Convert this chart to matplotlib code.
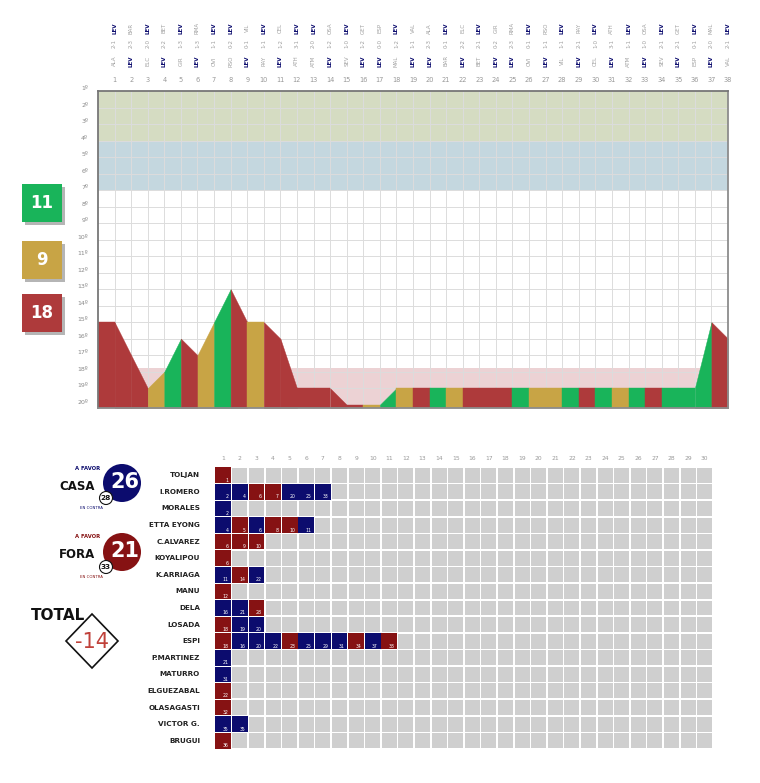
import matplotlib
matplotlib.use('Agg')
import matplotlib.pyplot as plt
from matplotlib.patches import Rectangle, Circle, Polygon
from matplotlib import transforms

plt.rcParams['font.family'] = ['Liberation Sans Narrow', 'DejaVu Sans']

# ---------------- data ----------------
rounds = list(range(1, 39))
positions = [15, 17, 19, 18, 16, 17, 15, 13, 15, 15, 16, 19, 19, 19, 20, 20, 20, 19,
             19, 19, 19, 19, 19, 19, 19, 19, 19, 19, 19, 19, 19, 19, 19, 19, 19, 19, 15, 16]
results = "LLLDWLDWLDLLLLLLDWDLWDLLLWDDWLWDWLWWWL"
opponents = ['ALA', 'BAR', 'ELC', 'BET', 'GIR', 'RMA', 'OVI', 'RSO', 'VIL', 'RAY',
             'CEL', 'ATH', 'ATM', 'OSA', 'SEV', 'GET', 'ESP', 'MAL', 'VAL', 'ALA',
             'BAR', 'ELC', 'BET', 'GIR', 'RMA', 'OVI', 'RSO', 'VIL', 'RAY', 'CEL',
             'ATH', 'ATM', 'OSA', 'SEV', 'GET', 'ESP', 'MAL', 'VAL']
home = [0, 1, 0, 1, 0, 1, 0, 0, 1, 0, 1, 0, 0, 1, 0, 1, 1, 0, 1, 1,
        0, 1, 0, 1, 1, 0, 1, 0, 1, 0, 1, 0, 1, 0, 1, 0, 1, 0]
lev_goals = [1, 2, 0, 2, 3, 1, 1, 2, 0, 1, 1, 1, 0, 1, 0, 1, 0, 2, 1, 2,
             1, 2, 1, 0, 2, 1, 1, 1, 2, 0, 3, 1, 1, 1, 2, 1, 2, 1]
opp_goals = [2, 3, 2, 2, 1, 3, 1, 0, 1, 1, 2, 3, 2, 2, 1, 2, 0, 1, 1, 3,
             0, 2, 2, 2, 3, 0, 1, 1, 1, 1, 1, 1, 0, 2, 1, 0, 0, 2]
wins, draws, losses = 11, 9, 18

players = ['TOLJAN', 'I.ROMERO', 'MORALES', 'ETTA EYONG', 'C.ALVAREZ', 'KOYALIPOU',
           'K.ARRIAGA', 'MANU', 'DELA', 'LOSADA', 'ESPI', 'P.MARTINEZ', 'MATURRO',
           'ELGUEZABAL', 'OLASAGASTI', 'VICTOR G.', 'BRUGUI']
goal_rounds = [
    [1],
    [2, 4, 6, 7, 20, 25, 33],
    [2],
    [4, 5, 6, 8, 10, 11],
    [6, 9, 10],
    [6],
    [11, 14, 22],
    [12],
    [16, 21, 28],
    [18, 19, 20],
    [18, 16, 20, 22, 23, 25, 29, 31, 34, 37, 38],
    [21],
    [31],
    [22],
    [32],
    [35, 35],
    [36],
]
goal_home = [
    [0],
    [1, 1, 0, 0, 1, 1, 1],
    [1],
    [1, 0, 1, 0, 0, 1],
    [0, 0, 0],
    [0],
    [1, 0, 1],
    [0],
    [1, 1, 0],
    [0, 1, 1],
    [0, 1, 1, 1, 0, 1, 1, 1, 0, 1, 0],
    [1],
    [1],
    [0],
    [0],
    [1, 1],
    [0],
]
home_for, home_against = 26, 28
away_for, away_against = 21, 33
goal_diff = -14

# ---------------- style ----------------
C_W, C_D, C_L = '#19b45a', '#c8a445', '#ae3a3b'
res_col = {'W': C_W, 'D': C_D, 'L': C_L}
NAVY, GARNET = '#0c0c6e', '#861213'

W, H = 760, 783
fig = plt.figure(figsize=(W / 100, H / 100), dpi=100)
fig.patch.set_facecolor('white')

def fbox(x0, y0, x1, y1):
    return [x0 / W, 1 - y1 / H, (x1 - x0) / W, (y1 - y0) / H]

# ---------------- main position chart ----------------
ax = fig.add_axes(fbox(98, 91, 728, 408))
YTOP, YBOT = 1.0, 20.2
ax.set_xlim(0, 38)
ax.set_ylim(YBOT, YTOP)
ax.axhspan(YTOP, 4, color='#d5dcc2', zorder=0, lw=0)
ax.axhspan(4, 7, color='#c4d7df', zorder=0, lw=0)
ax.axhspan(17.8, YBOT, color='#ecd2d4', zorder=0, lw=0)
for xg in range(1, 38):
    ax.axvline(xg, color='#dcdcdc', lw=0.7, zorder=1)
for yg in range(2, 21):
    ax.axhline(yg, color='#dcdcdc', lw=0.7, zorder=1)

pts = [positions[0]] + positions
for i, r in enumerate(rounds):
    ax.fill_between([r - 1, r], [pts[i], pts[i + 1]], YBOT,
                    color=res_col[results[i]], lw=0.3, zorder=2)

ax.set_xticks([])
ax.set_yticks([])
for s in ax.spines.values():
    s.set_color('#8c8c8c')
    s.set_linewidth(1.3)
ax.spines['left'].set_color('#777777')
ax.spines['top'].set_color('#777777')

for p in range(1, 21):
    ax.text(-0.6, p - 0.15, f'{p}º', ha='right', va='center', fontsize=4.5,
            color='#888888')

tr = transforms.blended_transform_factory(ax.transData, ax.transAxes)
for i, r in enumerate(rounds):
    ax.text(r, 1.035, str(r), transform=tr, ha='center', va='center',
            fontsize=4.8, color='#999999')
    if home[i]:
        h, a = 'LEV', opponents[i]
        sc = f'{lev_goals[i]}-{opp_goals[i]}'
    else:
        h, a = opponents[i], 'LEV'
        sc = f'{opp_goals[i]}-{lev_goals[i]}'
    for txt, yy in ((h, 1.095), (sc, 1.151), (a, 1.198)):
        isl = txt == 'LEV'
        ax.text(r, yy, txt, transform=tr, ha='center', va='center', rotation=90,
                fontsize=4, color=NAVY if isl else '#a0a0a0',
                fontweight='bold' if isl else 'normal')

# ---------------- goals grid ----------------
gx = fig.add_axes(fbox(215, 467, 713, 749))
gx.set_xlim(0, 30)
gx.set_ylim(17, 0)
gx.axis('off')
for i in range(len(players)):
    for j in range(30):
        gx.add_patch(Rectangle((j + 0.05, i + 0.05), 0.9, 0.9,
                               facecolor='#cfcfcf', edgecolor='none', zorder=0))
    gx.text(-0.9, i + 0.5, players[i], ha='right', va='center', fontsize=5.2,
            fontweight='bold', color='#222222')
    for j, (rd, hm) in enumerate(zip(goal_rounds[i], goal_home[i])):
        gx.bar(j + 0.5, 0.94, bottom=i + 0.03, width=0.96,
               color=NAVY if hm else GARNET, zorder=2)
        gx.text(j + 0.82, i + 0.8, str(rd), ha='right', va='center',
                fontsize=3.3, color='white', zorder=3)
for j in range(30):
    gx.text(j + 0.5, -0.5, str(j + 1), ha='center', va='center', fontsize=4.3,
            color='#999999')

# ---------------- overlay (pixel coordinates) ----------------
ov = fig.add_axes([0, 0, 1, 1], zorder=5)
ov.set_xlim(0, W)
ov.set_ylim(H, 0)
ov.axis('off')
ov.patch.set_alpha(0)

for (y0, col, val) in ((184, C_W, wins), (241, C_D, draws), (294, C_L, losses)):
    ov.add_patch(Rectangle((25, y0 + 3), 40, 38, facecolor='#b5b5b5', edgecolor='none'))
    ov.add_patch(Rectangle((22, y0), 40, 38, facecolor=col, edgecolor='none'))
    ov.text(42, y0 + 19, str(val), ha='center', va='center', fontsize=12,
            fontweight='bold', color='white')

def block(label, cy, col, gf, ga):
    ov.text(100, cy - 15, 'A FAVOR', ha='right', va='center', fontsize=3.8,
            fontweight='bold', color=col)
    ov.text(77, cy + 3, label, ha='center', va='center', fontsize=8.5,
            fontweight='bold', color='#111111')
    ov.add_patch(Circle((122, cy), 19, facecolor=col, edgecolor='none'))
    ov.text(125, cy - 1, str(gf), ha='center', va='center', fontsize=15,
            fontweight='bold', color='white')
    ov.add_patch(Circle((106, cy + 15), 6.5, facecolor='white', edgecolor='#111111', lw=0.8))
    ov.text(106, cy + 15.3, str(ga), ha='center', va='center', fontsize=5.3,
            fontweight='bold', color='#111111')
    ov.text(91, cy + 25, 'EN CONTRA', ha='center', va='center', fontsize=2.8,
            color=col)

block('CASA', 483, NAVY, home_for, home_against)
block('FORA', 552, GARNET, away_for, away_against)

ov.text(58, 615, 'TOTAL', ha='center', va='center', fontsize=11, fontweight='bold',
        color='#111111')
ov.add_patch(Polygon([(92, 614), (118, 641), (92, 668), (66, 641)], closed=True,
                     facecolor='white', edgecolor='#111111', lw=1.2))
ov.text(92, 642, f'{goal_diff}', ha='center', va='center', fontsize=15,
        color='#c0413a')

fig.savefig('out.png', dpi=100, facecolor='white')
